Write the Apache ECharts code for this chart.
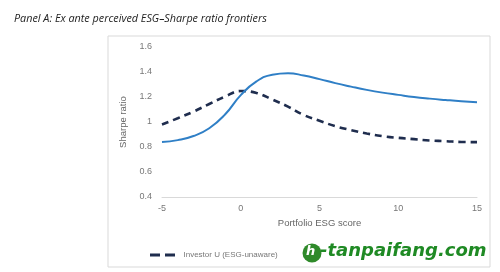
<!DOCTYPE html>
<html>
<head>
<meta charset="utf-8">
<script src="https://cdn.jsdelivr.net/npm/echarts@6/dist/echarts.min.js"></script>
<style>
html,body{margin:0;padding:0;background:#fff;}
#c{width:500px;height:272px;}
</style>
</head>
<body>
<div id="c"></div>
<script>
var esgScore = [-5,-4,-3,-2,-1,0,1,2,3,4,5,6,7,8,9,10,11,12,13,14,15];
var investorA = [0.84,0.855,0.888,0.95,1.06,1.215,1.325,1.378,1.39,1.372,1.343,1.311,1.283,1.257,1.235,1.217,1.2,1.187,1.176,1.166,1.158];
var investorU = [0.98,1.03,1.083,1.144,1.203,1.248,1.232,1.18,1.123,1.056,1.01,0.967,0.935,0.908,0.887,0.873,0.863,0.852,0.847,0.84,0.839];
var seriesNames = ['Investor U (ESG-unaware)', 'Investor A (ESG-aware)'];
var titleText = 'Panel A: Ex ante perceived ESG\u2013Sharpe ratio frontiers';
var xTitle = 'Portfolio ESG score';
var yTitle = 'Sharpe ratio';

function pairs(xs, ys){ return xs.map(function(x,i){return [x, ys[i]];}); }

var chart = echarts.init(document.getElementById('c'), null, {renderer:'canvas'});
chart.setOption({
  animation:false,
  backgroundColor:'#fff',
  title:{text:titleText, left:9, top:8, textStyle:{fontFamily:'Open Sans', fontStyle:'italic', fontWeight:'normal', fontSize:10.8, color:'#222'}},
  graphic:[
    {type:'rect', shape:{x:108,y:36,width:382,height:231}, style:{fill:'none', stroke:'#d9d9d9', lineWidth:1}, z:-1},
    {type:'circle', shape:{cx:312,cy:253,r:9.5}, style:{fill:'#2f8a2a'}, z:10},
    {type:'text', left:306, top:245, style:{text:'h', fill:'#fff', font:'bold italic 13px "DejaVu Sans"'}, z:11},
    {type:'text', left:320, top:242, style:{text:'-tanpaifang.com', fill:'#1f8a24', font:'bold italic 18px "DejaVu Sans"'}, z:11}
  ],
  grid:{left:162, right:23, top:47, bottom:75},
  legend:{
    data:[{name:seriesNames[0], icon:'path://M0,0h10v3h-10z M15,0h10v3h-10z'}],
    left:145, top:246, itemWidth:26, itemHeight:3, itemGap:10,
    textStyle:{fontFamily:'Liberation Sans', fontSize:8, color:'#777', padding:[0,0,0,3]}
  },
  xAxis:{
    type:'value', min:-5, max:15, interval:5,
    name:xTitle, nameLocation:'middle', nameGap:17,
    nameTextStyle:{fontFamily:'Liberation Sans', fontSize:9.5, color:'#666'},
    axisLine:{show:true, onZero:false, lineStyle:{color:'#d9d9d9', width:1}},
    axisTick:{show:false},
    axisLabel:{fontFamily:'Liberation Sans', fontSize:9, color:'#777', margin:7},
    splitLine:{show:false}
  },
  yAxis:{
    type:'value', min:0.4, max:1.6, interval:0.2,
    name:yTitle, nameLocation:'middle', nameGap:27,
    nameTextStyle:{fontFamily:'Liberation Sans', fontSize:9.5, color:'#666'},
    axisLine:{show:false}, axisTick:{show:false},
    axisLabel:{fontFamily:'Liberation Sans', fontSize:9, color:'#777', margin:10,
      formatter:function(v){return String(Math.round(v*10)/10);}},
    splitLine:{show:false}
  },
  series:[
    {name:seriesNames[0], type:'line', data:pairs(esgScore, investorU), smooth:0.45, symbol:'none',
      lineStyle:{color:'#1f2d4e', width:2.6, type:[7,5]}, itemStyle:{color:'#1f2d4e'}},
    {name:seriesNames[1], type:'line', data:pairs(esgScore, investorA), smooth:0.5, symbol:'none',
      lineStyle:{color:'#2f7fc6', width:2}, itemStyle:{color:'#2f7fc6'}}
  ]
});
</script>
</body>
</html>
